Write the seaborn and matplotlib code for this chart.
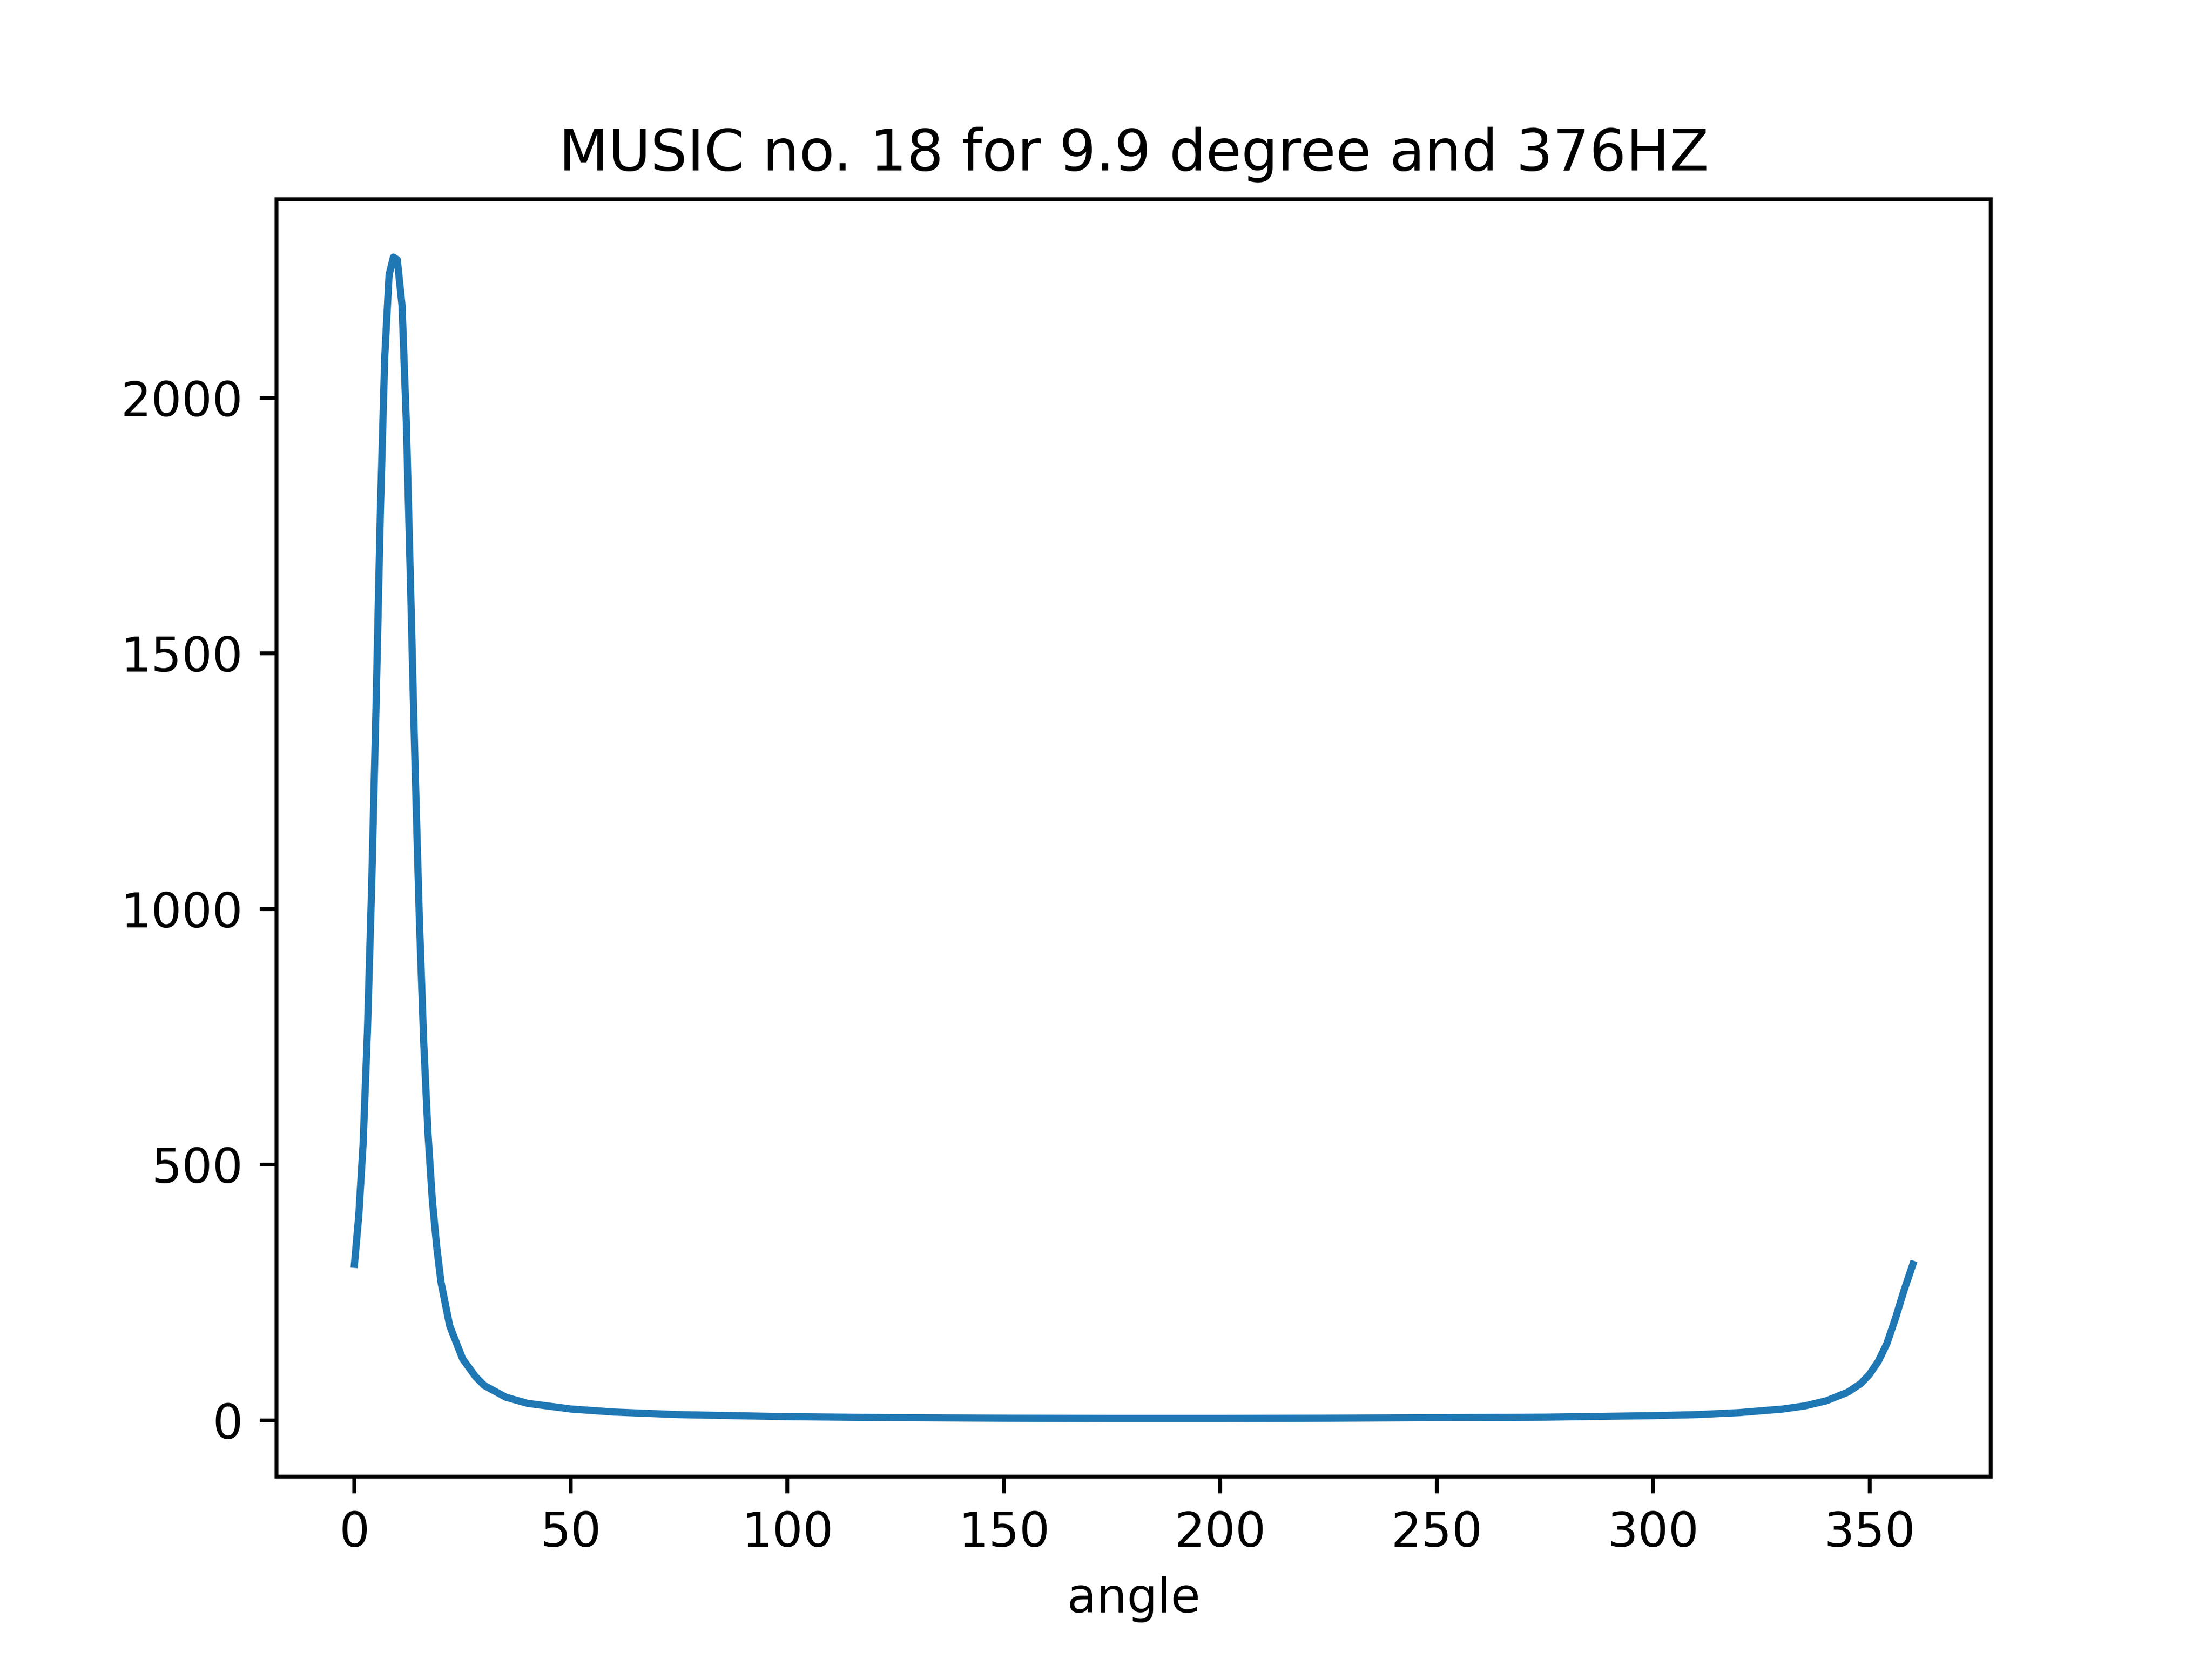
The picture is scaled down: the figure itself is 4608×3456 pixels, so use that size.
import matplotlib
matplotlib.use("Agg")
import matplotlib.pyplot as plt
import seaborn as sns
import pandas as pd

angle = [0, 1, 2, 3, 4, 5, 6, 7, 8, 9, 9.9, 11, 12, 13, 14, 15, 16, 17, 18, 19, 20, 22, 25, 28, 30, 35, 40, 50, 60, 75, 100, 125, 150, 175, 200, 225, 250, 275, 300, 310, 320, 330, 335, 340, 345, 348, 350, 352, 354, 356, 358, 360]
power = [305, 400, 540, 760, 1050, 1400, 1780, 2080, 2240, 2275, 2270, 2180, 1950, 1620, 1280, 980, 740, 560, 430, 340, 270, 185, 120, 85, 68, 45, 33, 22, 16, 11, 7, 5, 4, 3.5, 3.5, 4, 5, 6, 9, 11, 15, 22, 28, 38, 55, 72, 90, 115, 150, 200, 255, 305]

df = pd.DataFrame({"angle": angle, "power": power})

fig, ax = plt.subplots(figsize=(6.4, 4.8), dpi=720)
sns.lineplot(data=df, x="angle", y="power", ax=ax, color="#1f77b4", linewidth=1.5)
ax.set_ylabel("")
ax.set_xlabel("angle")
ax.set_title("MUSIC no. 18 for 9.9 degree and 376HZ")
fig.savefig("out.png", dpi=720)
